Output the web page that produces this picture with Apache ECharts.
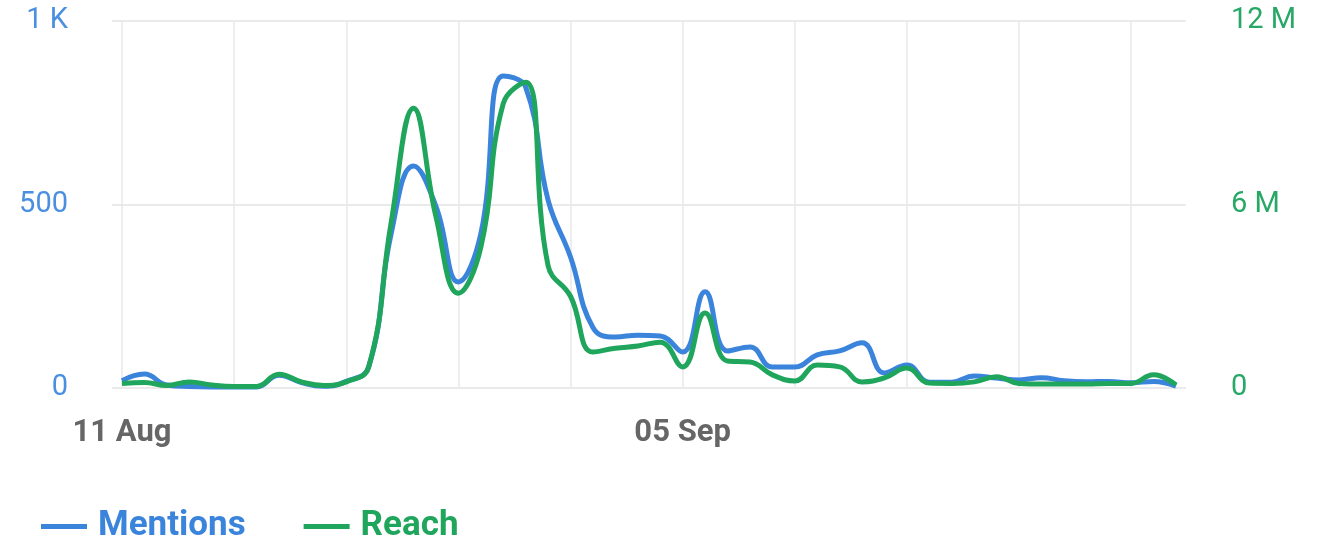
<!DOCTYPE html>
<html>
<head>
<meta charset="utf-8">
<script src="https://cdn.jsdelivr.net/npm/echarts@6/dist/echarts.min.js"></script>
<style>
html,body{margin:0;padding:0;background:#fff;}
#chart{width:1322px;height:539px;}
</style>
</head>
<body>
<div id="chart"></div>
<script>
var dates = ["11 Aug","12 Aug","13 Aug","14 Aug","15 Aug","16 Aug","17 Aug","18 Aug","19 Aug","20 Aug",
  "21 Aug","22 Aug","23 Aug","24 Aug","25 Aug","26 Aug","27 Aug","28 Aug","29 Aug","30 Aug","31 Aug",
  "01 Sep","02 Sep","03 Sep","04 Sep","05 Sep","06 Sep","07 Sep","08 Sep","09 Sep","10 Sep",
  "11 Sep","12 Sep","13 Sep","14 Sep","15 Sep","16 Sep","17 Sep","18 Sep","19 Sep","20 Sep",
  "21 Sep","22 Sep","23 Sep","24 Sep","25 Sep","26 Sep","27 Sep"];
var mentions = [20,38,8,4,3,3,3,35,15,5,18,57,420,605,495,289,420,850,820,512,357,165,139,144,142,98,262,101,112,57,57,90,101,123,41,63,16,16,33,27,22,28,20,17,18,14,18,5];
var reachM = [0.15,0.18,0.08,0.2,0.1,0.05,0.05,0.45,0.2,0.08,0.2,0.69,5.4,9.15,5.6,3.1,4.6,9.3,10.0,4.0,3.0,1.18,1.3,1.37,1.5,0.69,2.45,0.88,0.85,0.43,0.23,0.75,0.69,0.2,0.33,0.65,0.16,0.15,0.2,0.37,0.15,0.13,0.13,0.13,0.15,0.15,0.43,0.1];
var leftTicks = {0:"0",500:"500",1000:"1 K"};
var rightTicks = {0:"0",6:"6 M",12:"12 M"};

var BLUE = "#3b84dc", GREEN = "#1fa55c";
var chart = echarts.init(document.getElementById('chart'), null, {renderer:'canvas'});
chart.setOption({
  animation:false,
  backgroundColor:'#fff',
  textStyle:{fontFamily:'Roboto'},
  grid:{left:122, right:146, top:21, bottom:151, containLabel:false},
  legend:{
    left:36, top:504, icon:'rect', itemWidth:46, itemHeight:5, itemGap:58,
    textStyle:{fontSize:35, fontWeight:'bold', fontFamily:'Roboto', padding:[0,0,0,6]},
    data:[{name:'Mentions', textStyle:{color:BLUE}},{name:'Reach', textStyle:{color:GREEN}}]
  },
  xAxis:{
    type:'category', data:dates, boundaryGap:false,
    axisLine:{show:false}, axisTick:{show:false},
    axisLabel:{interval:24, margin:30, fontSize:31, fontWeight:'bold', color:'#666', fontFamily:'Roboto'},
    splitLine:{show:true, interval:4, lineStyle:{color:'#e8e8e8', width:1.5}}
  },
  yAxis:[{
    type:'value', min:0, max:1000, interval:500,
    axisLine:{show:false},
    axisTick:{show:true, length:10, lineStyle:{color:'#e3e3e3', width:1.5}},
    axisLabel:{margin:54, fontSize:29, color:'#4a8fe0', fontFamily:'Roboto', padding:[6,0,0,0],
      formatter:function(v){return leftTicks[v]!==undefined?leftTicks[v]:v;}},
    splitLine:{show:true, lineStyle:{color:'#e3e3e3', width:1.5}}
  },{
    type:'value', min:0, max:12, interval:6, position:'right',
    axisLine:{show:false},
    axisTick:{show:true, length:10, lineStyle:{color:'#e3e3e3', width:1.5}},
    axisLabel:{margin:55, fontSize:29, color:'#27a866', fontFamily:'Roboto', padding:[6,0,0,0],
      formatter:function(v){return rightTicks[v]!==undefined?rightTicks[v]:v;}},
    splitLine:{show:false}
  }],
  series:[{
    name:'Mentions', type:'line', yAxisIndex:0, data:mentions,
    smooth:0.45, symbol:'none', lineStyle:{color:BLUE, width:5}, itemStyle:{color:BLUE}
  },{
    name:'Reach', type:'line', yAxisIndex:1, data:reachM,
    smooth:0.45, symbol:'none', lineStyle:{color:GREEN, width:5}, itemStyle:{color:GREEN}
  }]
});
</script>
</body>
</html>
